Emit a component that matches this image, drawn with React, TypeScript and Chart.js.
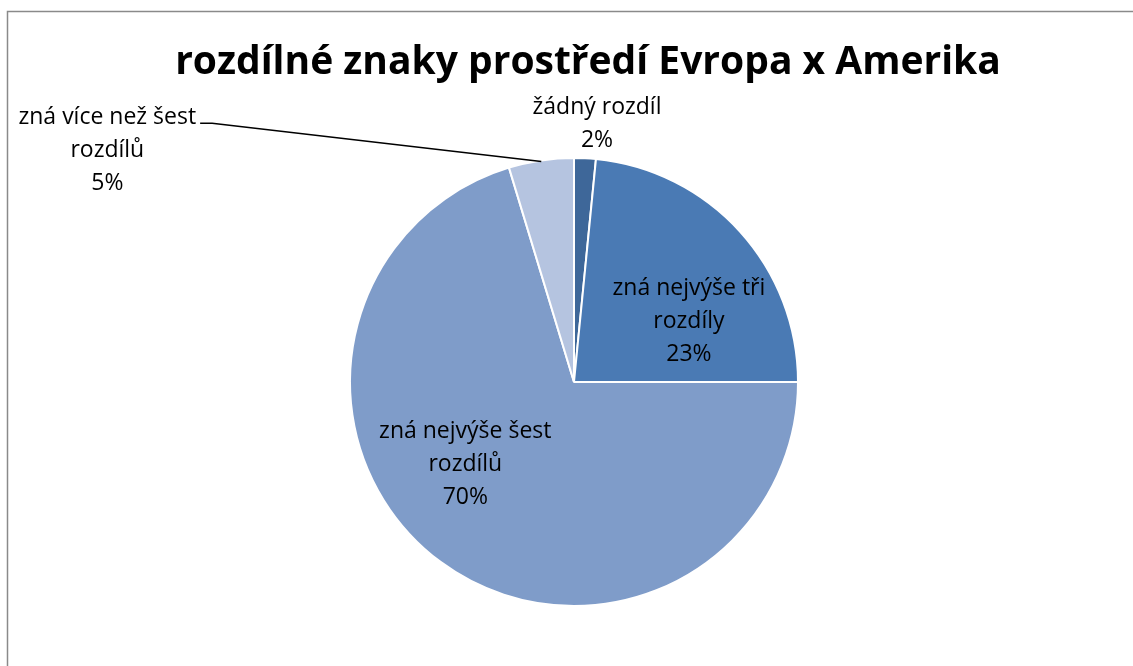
import React, { useEffect, useRef } from "react";
import { Chart, registerables } from "chart.js";

Chart.register(...registerables);

const chartTitle = "rozdílné znaky prostředí Evropa x Amerika";
const categories: string[][] = [
  ["žádný rozdíl"],
  ["zná nejvýše tři", "rozdíly"],
  ["zná nejvýše šest", "rozdílů"],
  ["zná více než šest", "rozdílů"],
];
const counts = [1, 15, 45, 3];
const sliceColors = ["#3E6799", "#4A7AB4", "#7F9CC9", "#B5C4E0"];

// label placement: angle (deg clockwise from 12 o'clock), distance as fraction of radius
const labelAngles = [5.1, 62.4, 232.7, 296.4];
const labelDist = [1.156, 0.579, 0.61, 2.326];
const leaderFor = [false, false, false, true];

const FONT = "'Open Sans', 'Noto Sans', sans-serif";

const framePlugin = {
  id: "frame",
  beforeDraw(chart: any) {
    const ctx = chart.ctx;
    ctx.save();
    ctx.fillStyle = "#ffffff";
    ctx.fillRect(0, 0, chart.width, chart.height);
    ctx.strokeStyle = "#8a8a8a";
    ctx.lineWidth = 1.5;
    ctx.beginPath();
    ctx.moveTo(7.5, chart.height);
    ctx.lineTo(7.5, 11.5);
    ctx.lineTo(chart.width, 11.5);
    ctx.stroke();
    ctx.restore();
  },
};

const labelPlugin = {
  id: "sliceLabels",
  afterDatasetsDraw(chart: any) {
    const ctx = chart.ctx;
    const meta = chart.getDatasetMeta(0);
    const total = counts.reduce((a, b) => a + b, 0);
    ctx.save();
    // title
    ctx.fillStyle = "#000";
    ctx.font = `bold 39px ${FONT}`;
    ctx.textAlign = "center";
    ctx.textBaseline = "middle";
    ctx.fillText(chartTitle, 588, 63);

    ctx.font = `23px ${FONT}`;
    const lh = 33;
    meta.data.forEach((arc: any, i: number) => {
      const p = arc.getProps(["x", "y", "outerRadius", "startAngle", "endAngle"], true);
      const a = -Math.PI / 2 + (labelAngles[i] * Math.PI) / 180;
      const cx = p.x + Math.cos(a) * p.outerRadius * labelDist[i];
      const cy = p.y + Math.sin(a) * p.outerRadius * labelDist[i];
      const pct = Math.round((counts[i] / total) * 100) + "%";
      const lines = [...categories[i], pct];
      const y0 = cy - ((lines.length - 1) * lh) / 2;
      ctx.fillStyle = "#000";
      lines.forEach((ln, k) => ctx.fillText(ln, cx, y0 + k * lh));
      if (leaderFor[i]) {
        const w = ctx.measureText(lines[0]).width;
        const sx = cx + w / 2 + 4;
        const sy = y0 + 6;
        const mid = (p.startAngle + p.endAngle) / 2;
        const ex = p.x + Math.cos(mid) * (p.outerRadius - 1);
        const ey = p.y + Math.sin(mid) * (p.outerRadius - 1);
        ctx.strokeStyle = "#000";
        ctx.lineWidth = 1.5;
        ctx.beginPath();
        ctx.moveTo(sx, sy);
        ctx.lineTo(sx + 12, sy);
        ctx.lineTo(ex, ey);
        ctx.stroke();
      }
    });
    ctx.restore();
  },
};

export default function App() {
  const ref = useRef<HTMLCanvasElement | null>(null);
  useEffect(() => {
    if (!ref.current) return;
    const chart = new Chart(ref.current, {
      type: "pie",
      data: {
        labels: categories.map((c) => c.join(" ")),
        datasets: [
          {
            data: counts,
            backgroundColor: sliceColors,
            borderColor: "#ffffff",
            borderWidth: 2,
            hoverOffset: 0,
          },
        ],
      },
      options: {
        animation: false,
        responsive: false,
        events: [],
        layout: { padding: { left: 349, right: 334, top: 157, bottom: 59 } },
        plugins: {
          legend: { display: false },
          title: { display: false },
          tooltip: { enabled: false },
        },
      },
      plugins: [framePlugin, labelPlugin],
    });
    return () => chart.destroy();
  }, []);
  return (
    <div style={{ position: "fixed", left: 0, top: 0, width: 1133, height: 666, background: "#fff" }}>
      <canvas ref={ref} width={1133} height={666} style={{ display: "block" }} />
    </div>
  );
}
